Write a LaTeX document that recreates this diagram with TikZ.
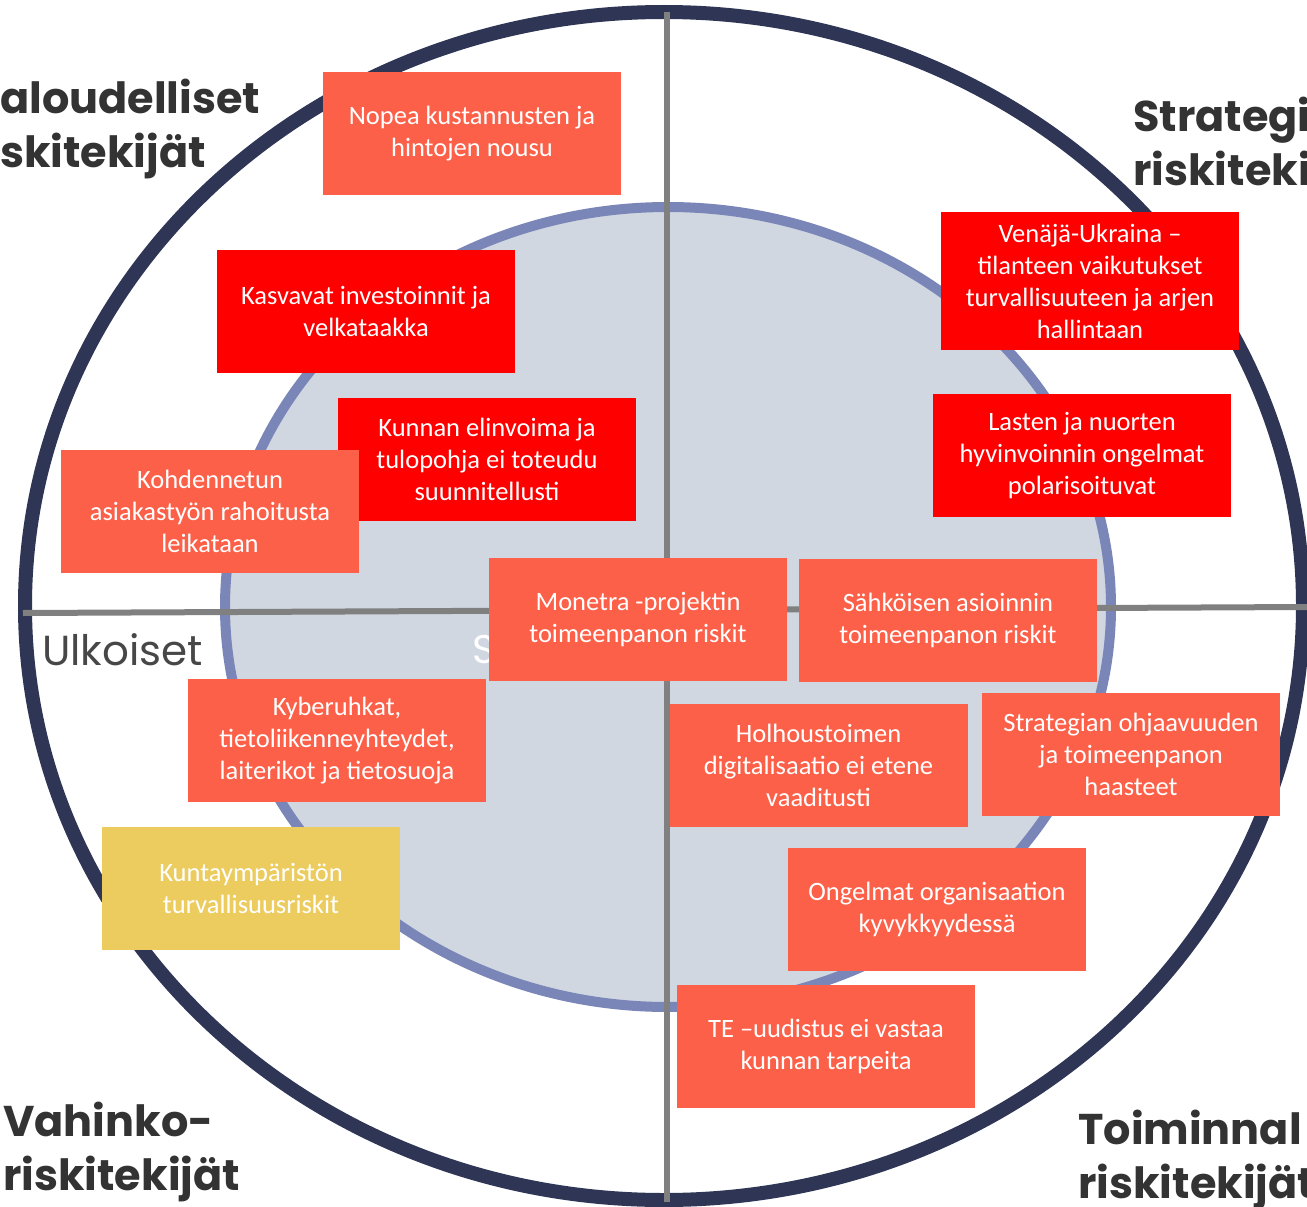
\documentclass[tikz,border=0pt]{standalone}
\usepackage{fontspec}
\setmainfont{Carlito}
\newfontfamily\headfont{Poppins}
\definecolor{rim}{RGB}{46,53,85}
\definecolor{core}{RGB}{208,215,225}
\definecolor{coreline}{RGB}{123,134,184}
\definecolor{axisgray}{RGB}{128,128,128}
\definecolor{coral}{RGB}{252,96,72}
\definecolor{alarm}{RGB}{254,0,0}
\definecolor{mustard}{RGB}{236,204,94}
\definecolor{headgray}{RGB}{51,51,51}
\tikzset{riskbox/.style={fill=#1, text=white, minimum width=298pt, minimum height=123pt,
  align=center, inner sep=0pt, font=\fontsize{26.5}{32}\selectfont}}
\tikzset{heading/.style={anchor=base west, inner sep=0pt, align=left, text=headgray,
  font=\headfont\bfseries\fontsize{43}{54}\selectfont}}

\begin{document}
\begin{tikzpicture}[x=1pt, y=-1pt]
      \useasboundingbox (0,0) rectangle (1307,1207);
      \fill [white] (0,0) rectangle (1307,1207);

      \draw [rim, line width=14pt, fill=white] (664,606) ellipse [x radius=639, y radius=594];
      \draw [coreline, line width=10pt, fill=core] (668,607) ellipse [x radius=443, y radius=400];

      \draw [axisgray, line width=6pt] (667,12) -- (667,1202);
      \draw [axisgray, line width=6pt] (23,613) -- (1307,607);

      \node [anchor=base west, inner sep=0pt, text=headgray!90, font=\headfont\fontsize{42}{48}\selectfont] (ulkoiset) at (42,665) {Ulkoiset};
      \node [anchor=base west, inner sep=0pt, text=white, font=\headfont\fontsize{40}{48}\selectfont] (sisa) at (472,663) {S};

      \node [heading] (talous) at (0,167) {aloudelliset\\skitekijät};
      \node [heading] (strategia) at (1133,185) {Strategi\\riskiteki};
      \node [heading] (vahinko) at (3,1190) {Vahinko-\\riskitekijät};
      \node [heading] (toiminta) at (1078,1198) {Toiminnal\\riskitekijät};

      \node [riskbox=coral] (nopea) at (472,133.5) {Nopea kustannusten ja\\hintojen nousu};
      \node [riskbox=alarm] (kasvavat) at (366,311.5) {Kasvavat investoinnit ja\\velkataakka};
      \node [riskbox=alarm] (kunnan) at (487,459.5) {Kunnan elinvoima ja\\tulopohja ei toteudu\\suunnitellusti};
      \node [riskbox=coral] (kohdennettu) at (210,511.5) {Kohdennetun\\asiakastyön rahoitusta\\leikataan};
      \node [riskbox=alarm, minimum height=138pt] (venaja) at (1090,281) {Venäjä-Ukraina –\\tilanteen vaikutukset\\turvallisuuteen ja arjen\\hallintaan};
      \node [riskbox=alarm] (lapset) at (1082,455.5) {Lasten ja nuorten\\hyvinvoinnin ongelmat\\polarisoituvat};
      \node [riskbox=coral] (monetra) at (638,619.5) {Monetra -projektin\\toimeenpanon riskit};
      \node [riskbox=coral] (sahkoinen) at (948,620.5) {Sähköisen asioinnin\\toimeenpanon riskit};
      \node [riskbox=coral] (kyber) at (337,740.5) {Kyberuhkat,\\tietoliikenneyhteydet,\\laiterikot ja tietosuoja};
      \node [riskbox=coral] (holhous) at (818.5,765.5) {Holhoustoimen\\digitalisaatio ei etene\\vaaditusti};
      \node [riskbox=coral] (ohjaus) at (1131,754.5) {Strategian ohjaavuuden\\ja toimeenpanon\\haasteet};
      \node [riskbox=mustard] (kunta) at (251,888) {Kuntaympäristön\\turvallisuusriskit};
      \node [riskbox=coral] (ongelmat) at (937,909.5) {Ongelmat organisaation\\kyvykkyydessä};
      \node [riskbox=coral] (te) at (826,1046.5) {TE –uudistus ei vastaa\\kunnan tarpeita};
\end{tikzpicture}
\end{document}
